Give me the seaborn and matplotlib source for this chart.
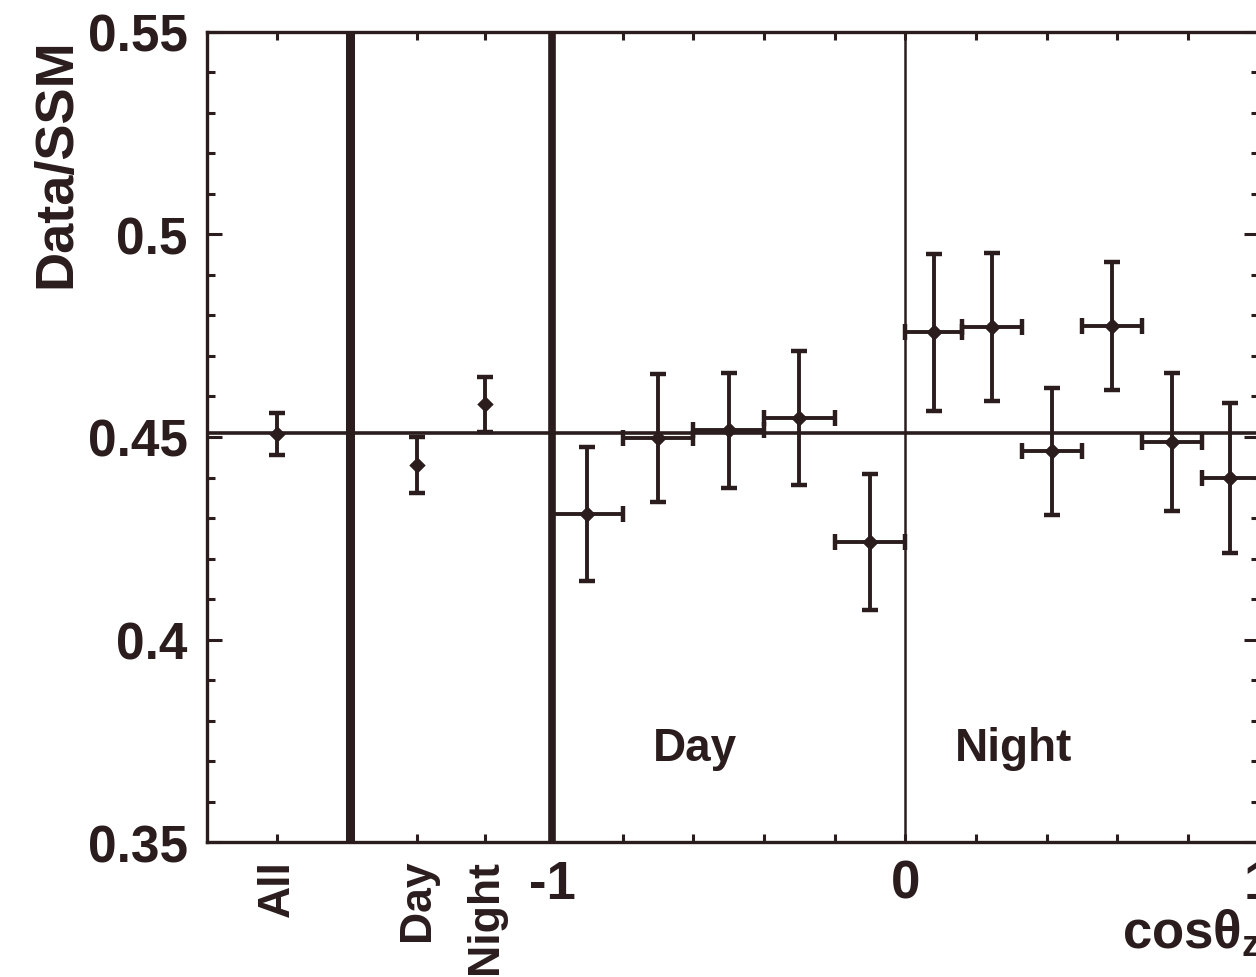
import numpy as np
import pandas as pd
import matplotlib
matplotlib.use("Agg")
import matplotlib.pyplot as plt
from matplotlib.ticker import FixedLocator, FixedFormatter
import seaborn as sns

# ---------------- data ----------------
summary_labels = ["All", "Day", "Night"]
summary_values = [0.4507, 0.4431, 0.4581]
summary_errors = [0.0052, 0.0069, 0.0068]

day_bin_edges = [-1.0, -0.8, -0.6, -0.4, -0.2, 0.0]
day_values = [0.4310, 0.4498, 0.4517, 0.4547, 0.4241]
day_errors = [0.0166, 0.0158, 0.0142, 0.0165, 0.0167]

night_bin_edges = [0.0, 0.16, 0.33, 0.50, 0.67, 0.84, 1.0]
night_values = [0.4759, 0.4772, 0.4465, 0.4774, 0.4488, 0.4399]
night_errors = [0.0194, 0.0182, 0.0157, 0.0157, 0.0170, 0.0185]

reference_level = 0.451

y_ticks = [0.35, 0.40, 0.45, 0.50, 0.55]
y_tick_labels = ["0.35", "0.4", "0.45", "0.5", "0.55"]
x_tick_values = [-1, 0, 1]
x_tick_labels = ["-1", "0", "1"]

# ---------------- layout constants ----------------
summary_pos = [-1.779, -1.382, -1.189]   # positions of the All/Day/Night column
panel_sep = -1.572                         # thick separator inside left panel
xlim = (-1.977, 1.0)
ink = "#2b1d1d"

sns.set_theme(style="ticks")
plt.rcParams["font.family"] = ["Liberation Sans", "DejaVu Sans"]
plt.rcParams["font.weight"] = "bold"
plt.rcParams["mathtext.fontset"] = "custom"
plt.rcParams["mathtext.rm"] = "Liberation Sans:bold"
plt.rcParams["mathtext.it"] = "Liberation Sans:bold"
plt.rcParams["mathtext.bf"] = "Liberation Sans:bold"

fig = plt.figure(figsize=(12.56, 9.78), dpi=100)
ax = fig.add_axes([0.1648, 0.138, 0.8372, 0.8283])

def centers(edges):
    e = np.asarray(edges)
    return (e[:-1] + e[1:]) / 2, (e[1:] - e[:-1]) / 2

dc, dw = centers(day_bin_edges)
nc, nw = centers(night_bin_edges)

df = pd.DataFrame({
    "x": list(summary_pos) + list(dc) + list(nc),
    "y": summary_values + day_values + night_values,
    "yerr": summary_errors + day_errors + night_errors,
    "xerr": [0, 0, 0] + list(dw) + list(nw),
    "group": ["summary"] * 3 + ["day"] * len(dc) + ["night"] * len(nc),
})

# reference lines
ax.axhline(reference_level, color=ink, lw=2.6, zorder=1)
ax.axvline(panel_sep, color=ink, lw=6.5, zorder=1)
ax.axvline(-1, color=ink, lw=5.5, zorder=1)
ax.axvline(0, color=ink, lw=1.8, zorder=1)

# error bars
for g, sub in df.groupby("group"):
    xe = sub["xerr"].values if g != "summary" else None
    ax.errorbar(sub["x"], sub["y"], yerr=sub["yerr"], xerr=xe, fmt="none",
                ecolor=ink, elinewidth=2.8, capsize=6, capthick=3.2, zorder=3)
sns.scatterplot(data=df, x="x", y="y", ax=ax, color=ink, s=70, marker="D",
                edgecolor=ink, linewidth=0, legend=False, zorder=4)

ax.set_xlim(*xlim)
ax.set_ylim(0.35, 0.55)

# y ticks
ax.yaxis.set_major_locator(FixedLocator(y_ticks))
ax.yaxis.set_major_formatter(FixedFormatter(y_tick_labels))
ax.yaxis.set_minor_locator(FixedLocator(np.round(np.arange(0.35, 0.5501, 0.01), 3)))

# x ticks
xt = list(summary_pos) + x_tick_values
xl = summary_labels + x_tick_labels
ax.set_xticks(xt)
ax.set_xticklabels(xl)
ax.xaxis.set_minor_locator(FixedLocator([-0.8, -0.6, -0.4, -0.2, 0.2, 0.4, 0.6, 0.8]))

ax.tick_params(axis="both", which="both", direction="in", top=True, right=True,
               color=ink, width=2.2)
ax.tick_params(axis="y", which="major", length=11, labelsize=37, pad=14,
               labelcolor=ink)
ax.tick_params(axis="y", which="minor", length=6)
ax.tick_params(axis="x", which="major", length=6, labelsize=38, pad=12,
               labelcolor=ink)
ax.tick_params(axis="x", which="minor", length=6)

labels = ax.get_xticklabels()
for lab in labels[:3]:
    lab.set_rotation(90)
    lab.set_va("top")
    lab.set_ha("center")
    lab.set_fontsize(32)

for side in ["left", "right", "top", "bottom"]:
    ax.spines[side].set_color(ink)
    ax.spines[side].set_linewidth(2.4)

ax.set_xlabel("")
ax.set_ylabel("")

fig.text(0.045, 0.833, "Data/SSM", rotation=90, ha="center", va="center",
         fontsize=39, fontweight="bold", color=ink)
fig.text(1.004, 0.045, r"cos$\theta_z$", ha="right", va="center",
         fontsize=38, fontweight="bold", color=ink)

ax.text(-0.595, 0.3703, "Day", ha="center", va="baseline", fontsize=33,
        fontweight="bold", color=ink)
ax.text(0.306, 0.3703, "Night", ha="center", va="baseline", fontsize=33,
        fontweight="bold", color=ink)

fig.savefig("out.png", dpi=100, facecolor="white")
